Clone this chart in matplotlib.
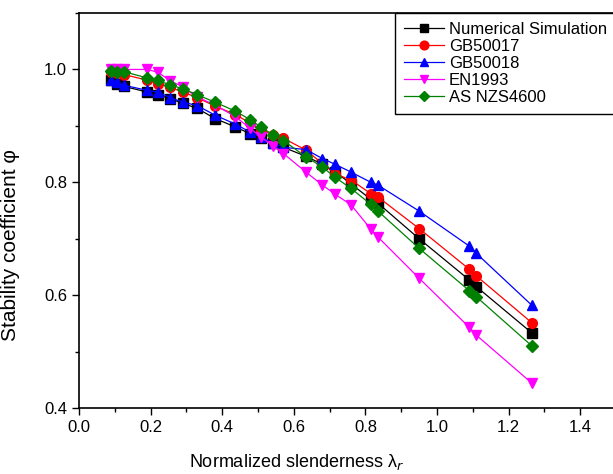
import matplotlib.pyplot as plt
from matplotlib.ticker import MultipleLocator

plt.rcParams['font.family'] = ['Liberation Sans', 'DejaVu Sans']

# ── Data ──────────────────────────────────────────────
slenderness = [0.09, 0.105, 0.125, 0.19, 0.22, 0.255, 0.29, 0.33, 0.38, 0.437,
               0.478, 0.508, 0.542, 0.571, 0.634, 0.68, 0.715, 0.76, 0.815, 0.835,
               0.95, 1.09, 1.11, 1.265]

numerical = [0.981, 0.975, 0.970, 0.960, 0.955, 0.948, 0.940, 0.931, 0.913, 0.898,
             0.886, 0.878, 0.870, 0.862, 0.846, 0.832, 0.819, 0.797, 0.770, 0.763,
             0.700, 0.627, 0.615, 0.533]
gb50017 = [0.995, 0.993, 0.991, 0.981, 0.975, 0.968, 0.960, 0.950, 0.935, 0.920,
           0.905, 0.893, 0.884, 0.878, 0.857, 0.833, 0.815, 0.804, 0.780, 0.774,
           0.718, 0.646, 0.634, 0.551]
gb50018 = [0.981, 0.978, 0.972, 0.963, 0.960, 0.950, 0.942, 0.936, 0.919, 0.903,
           0.889, 0.880, 0.870, 0.862, 0.858, 0.842, 0.832, 0.818, 0.800, 0.795,
           0.749, 0.687, 0.674, 0.582]
en1993 = [1.0, 1.0, 1.0, 1.0, 0.995, 0.980, 0.969, 0.951, 0.937, 0.916,
          0.896, 0.880, 0.865, 0.851, 0.818, 0.795, 0.779, 0.760, 0.717, 0.703,
          0.630, 0.543, 0.529, 0.444]
asnzs4600 = [0.998, 0.996, 0.996, 0.985, 0.981, 0.972, 0.966, 0.955, 0.942, 0.926,
             0.911, 0.898, 0.884, 0.874, 0.845, 0.827, 0.809, 0.789, 0.761, 0.749,
             0.683, 0.608, 0.597, 0.510]

series = [
    ("Numerical Simulation", numerical, "black", "s"),
    ("GB50017", gb50017, "red", "o"),
    ("GB50018", gb50018, "blue", "^"),
    ("EN1993", en1993, "magenta", "v"),
    ("AS NZS4600", asnzs4600, "#008000", "D"),
]

# ── Plot ──────────────────────────────────────────────
fig = plt.figure(figsize=(6.13, 4.74), dpi=100)
ax = fig.add_axes([79 / 613, 66 / 474, 537 / 613, 395 / 474])

for name, vals, col, mk in series:
    ax.plot(slenderness, vals, color=col, marker=mk, markersize=7 if mk != "D" else 6,
            linewidth=0.9, markeredgecolor=col, label=name)

ax.set_xlim(0, 1.5)
ax.set_ylim(0.4, 1.1)
ax.xaxis.set_major_locator(MultipleLocator(0.2))
ax.xaxis.set_minor_locator(MultipleLocator(0.1))
ax.yaxis.set_major_locator(MultipleLocator(0.2))
ax.yaxis.set_minor_locator(MultipleLocator(0.1))
ax.tick_params(which="major", direction="out", length=5, width=1, labelsize=12)
ax.tick_params(which="minor", direction="out", length=3, width=1)
for s in ax.spines.values():
    s.set_linewidth(1.2)

ax.set_xlabel("Normalized slenderness λ$_r$", fontsize=13)
ax.set_ylabel("Stability coefficient φ", fontsize=15)
ax.xaxis.set_label_coords(0.406, -0.111)
ax.yaxis.set_label_coords(-0.11, 0.413)

leg = ax.legend(loc="upper right", bbox_to_anchor=(1, 1), borderaxespad=0,
                fontsize=12, fancybox=False, framealpha=1, edgecolor="black",
                labelspacing=0.12, handlelength=2.4, handletextpad=0.3,
                borderpad=0.55, markerscale=0.9)
leg.get_frame().set_linewidth(1)

plt.savefig("out.png", dpi=100)
